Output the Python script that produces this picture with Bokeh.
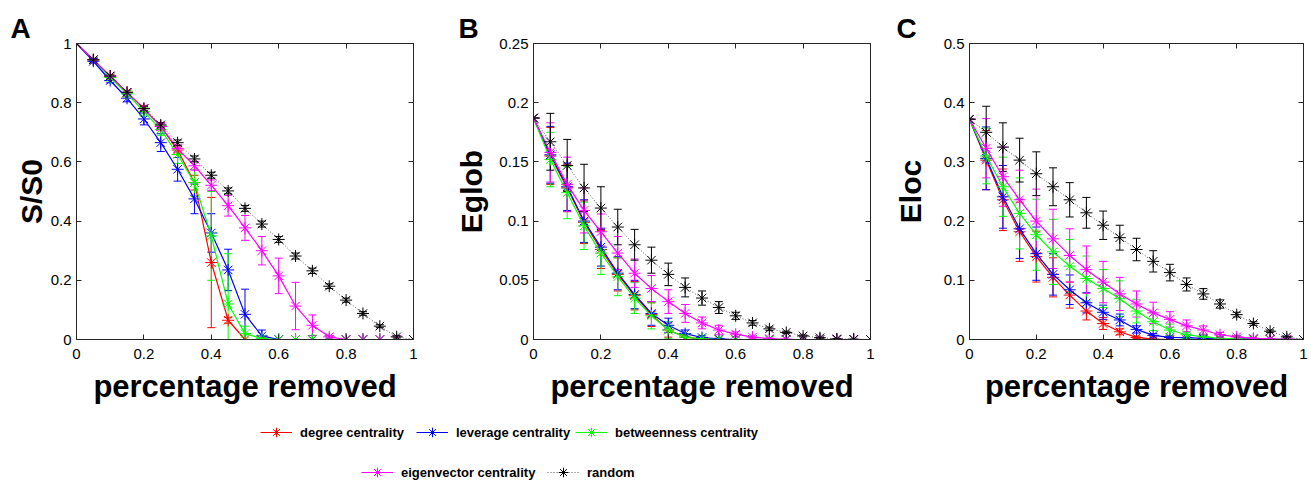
from bokeh.plotting import figure
from bokeh.models import (ColumnDataSource, Whisker, TeeHead, Range1d, FixedTicker,
                          LinearAxis, Legend, LegendItem, CustomLabelingPolicy)
from bokeh.layouts import row, column
from bokeh.embed import file_html
from bokeh.resources import INLINE

# ---------------- data ----------------
removed = [0.0, 0.05, 0.1, 0.15, 0.2, 0.25, 0.3, 0.35, 0.4, 0.45, 0.5,
           0.55, 0.6, 0.65, 0.7, 0.75, 0.8, 0.85, 0.9, 0.95, 1.0]

series_names = ["degree centrality", "leverage centrality", "betweenness centrality",
                "eigenvector centrality", "random"]
series_colors = ["#ff0000", "#0000ff", "#00ff00", "#ff00ff", "#000000"]

# Panel A : S/S0
degA = [1, 0.945, 0.89, 0.835, 0.78, 0.72, 0.64, 0.53, 0.26, 0.065, 0, 0, 0, 0, 0, 0, 0, 0, 0, 0, 0]
degA_err = [0, 0.005, 0.005, 0.007, 0.01, 0.012, 0.015, 0.025, 0.22, 0.01, 0, 0, 0, 0, 0, 0, 0, 0, 0, 0, 0]
levA = [1, 0.94, 0.875, 0.815, 0.745, 0.665, 0.575, 0.475, 0.36, 0.235, 0.085, 0.012, 0, 0, 0, 0, 0, 0, 0, 0, 0]
levA_err = [0, 0.006, 0.008, 0.012, 0.02, 0.03, 0.04, 0.05, 0.065, 0.07, 0.085, 0.02, 0, 0, 0, 0, 0, 0, 0, 0, 0]
betA = [1, 0.945, 0.885, 0.83, 0.77, 0.71, 0.625, 0.53, 0.35, 0.12, 0.02, 0.003, 0, 0, 0, 0, 0, 0, 0, 0, 0]
betA_err = [0, 0.005, 0.006, 0.01, 0.015, 0.02, 0.03, 0.045, 0.15, 0.17, 0.025, 0.004, 0, 0, 0, 0, 0, 0, 0, 0, 0]
eigA = [1, 0.945, 0.89, 0.835, 0.78, 0.72, 0.645, 0.587, 0.521, 0.452, 0.377, 0.30, 0.215, 0.113, 0.048, 0.009, 0, 0, 0, 0, 0]
eigA_err = [0, 0.004, 0.005, 0.006, 0.008, 0.01, 0.012, 0.015, 0.018, 0.035, 0.042, 0.048, 0.06, 0.08, 0.035, 0.005, 0, 0, 0, 0, 0]
randA = [1, 0.945, 0.89, 0.835, 0.78, 0.725, 0.665, 0.61, 0.555, 0.502, 0.443, 0.39, 0.338, 0.282, 0.232, 0.18, 0.133, 0.088, 0.045, 0.009, 0]
randA_err = [0, 0.004, 0.005, 0.006, 0.007, 0.008, 0.009, 0.01, 0.01, 0.01, 0.01, 0.01, 0.01, 0.01, 0.009, 0.008, 0.007, 0.006, 0.005, 0.004, 0]

# Panel B : Eglob
degB = [0.187, 0.155, 0.128, 0.099, 0.076, 0.055, 0.037, 0.021, 0.008, 0.002, 0.0003, 0, 0, 0, 0, 0, 0, 0, 0, 0, 0]
degB_err = [0, 0.024, 0.02, 0.018, 0.016, 0.014, 0.012, 0.01, 0.006, 0.002, 0.001, 0, 0, 0, 0, 0, 0, 0, 0, 0, 0]
levB = [0.187, 0.156, 0.129, 0.100, 0.078, 0.056, 0.038, 0.022, 0.012, 0.005, 0.0017, 0.0005, 0, 0, 0, 0, 0, 0, 0, 0, 0]
levB_err = [0, 0.024, 0.02, 0.018, 0.016, 0.014, 0.012, 0.01, 0.006, 0.003, 0.0015, 0.0005, 0, 0, 0, 0, 0, 0, 0, 0, 0]
betB = [0.187, 0.152, 0.124, 0.096, 0.073, 0.053, 0.035, 0.020, 0.008, 0.002, 0.0005, 0, 0, 0, 0, 0, 0, 0, 0, 0, 0]
betB_err = [0, 0.023, 0.022, 0.02, 0.018, 0.016, 0.013, 0.011, 0.007, 0.003, 0.001, 0, 0, 0, 0, 0, 0, 0, 0, 0, 0]
eigB = [0.187, 0.158, 0.131, 0.109, 0.091, 0.073, 0.056, 0.043, 0.032, 0.022, 0.014, 0.008, 0.0045, 0.002, 0.0007, 0.0002, 0, 0, 0, 0, 0]
eigB_err = [0, 0.025, 0.023, 0.019, 0.015, 0.014, 0.012, 0.011, 0.01, 0.0075, 0.005, 0.004, 0.002, 0.001, 0.0005, 0, 0, 0, 0, 0, 0]
randB = [0.187, 0.167, 0.147, 0.128, 0.111, 0.095, 0.080, 0.067, 0.055, 0.044, 0.035, 0.027, 0.020, 0.014, 0.009, 0.006, 0.003, 0.0015, 0.0005, 0.0002, 0]
randB_err = [0, 0.024, 0.022, 0.02, 0.018, 0.015, 0.013, 0.011, 0.0095, 0.008, 0.006, 0.005, 0.003, 0.002, 0.0015, 0.001, 0.0008, 0.0005, 0.0003, 0.0001, 0]

# Panel C : Eloc
degC = [0.372, 0.303, 0.236, 0.182, 0.140, 0.105, 0.075, 0.048, 0.027, 0.013, 0.0035, 0.0005, 0, 0, 0, 0, 0, 0, 0, 0, 0]
degC_err = [0, 0.05, 0.052, 0.05, 0.043, 0.033, 0.022, 0.015, 0.01, 0.005, 0.002, 0.0005, 0, 0, 0, 0, 0, 0, 0, 0, 0]
levC = [0.372, 0.306, 0.241, 0.187, 0.145, 0.110, 0.084, 0.062, 0.046, 0.033, 0.017, 0.007, 0.0035, 0.003, 0.002, 0.0015, 0.001, 0.001, 0.0005, 0.0003, 0]
levC_err = [0, 0.053, 0.053, 0.05, 0.045, 0.035, 0.025, 0.017, 0.012, 0.01, 0.006, 0.003, 0.002, 0.001, 0.001, 0.0005, 0, 0, 0, 0, 0]
betC = [0.372, 0.310, 0.258, 0.213, 0.177, 0.148, 0.124, 0.103, 0.086, 0.069, 0.048, 0.030, 0.016, 0.008, 0.0045, 0.002, 0.001, 0.0005, 0.0003, 0.0002, 0]
betC_err = [0, 0.047, 0.05, 0.06, 0.06, 0.055, 0.045, 0.038, 0.032, 0.03, 0.02, 0.015, 0.01, 0.005, 0.003, 0.002, 0.001, 0.0005, 0, 0, 0]
eigC = [0.372, 0.323, 0.275, 0.236, 0.200, 0.170, 0.142, 0.118, 0.097, 0.077, 0.060, 0.045, 0.034, 0.023, 0.016, 0.008, 0.0045, 0.002, 0.001, 0.0005, 0]
eigC_err = [0, 0.05, 0.05, 0.05, 0.054, 0.05, 0.045, 0.04, 0.035, 0.028, 0.022, 0.018, 0.013, 0.01, 0.007, 0.004, 0.002, 0.001, 0.0005, 0, 0]
randC = [0.372, 0.350, 0.325, 0.303, 0.280, 0.258, 0.236, 0.214, 0.193, 0.172, 0.152, 0.132, 0.113, 0.093, 0.077, 0.060, 0.042, 0.027, 0.014, 0.0045, 0]
randC_err = [0, 0.044, 0.041, 0.037, 0.037, 0.032, 0.029, 0.026, 0.024, 0.021, 0.019, 0.018, 0.014, 0.011, 0.009, 0.007, 0.004, 0.003, 0.002, 0.001, 0]

xtick_vals = [0, 0.2, 0.4, 0.6, 0.8, 1]
xtick_labels = ["0", "0.2", "0.4", "0.6", "0.8", "1"]
ytickA_vals = [0, 0.2, 0.4, 0.6, 0.8, 1]
ytickA_labels = ["0", "0.2", "0.4", "0.6", "0.8", "1"]
ytickB_vals = [0, 0.05, 0.1, 0.15, 0.2, 0.25]
ytickB_labels = ["0", "0.05", "0.1", "0.15", "0.2", "0.25"]
ytickC_vals = [0, 0.1, 0.2, 0.3, 0.4, 0.5]
ytickC_labels = ["0", "0.1", "0.2", "0.3", "0.4", "0.5"]

FONT = "Liberation Sans"
AX = "#262626"


def style_axis(ax, vals, labels, show_labels, standoff):
    ax.ticker = FixedTicker(ticks=vals)
    ax.major_tick_in = 5
    ax.major_tick_out = 0
    ax.minor_tick_line_color = None
    ax.axis_line_color = AX
    ax.major_tick_line_color = AX
    ax.major_label_text_font = FONT
    ax.major_label_text_color = "#000000"
    if show_labels:
        ax.major_label_overrides = {float(v): s for v, s in zip(vals, labels)}
        ax.major_label_text_font_size = "15px"
        ax.major_label_standoff = standoff
    else:
        ax.major_label_text_font_size = "0px"
        ax.major_label_standoff = 0
        ax.major_label_policy = CustomLabelingPolicy(code="return []")
        ax.axis_label = None


def make_panel(letter, ylabel, ymax, ytv, ytl, data, b_left, frame_w, b_right,
               ylab_standoff, letter_x):
    p = figure(frame_width=frame_w, frame_height=296,
               min_border_left=b_left, min_border_right=b_right,
               min_border_top=43, min_border_bottom=69,
               x_range=Range1d(0, 1), y_range=Range1d(0, ymax),
               output_backend="svg", toolbar_location=None,
               x_axis_label="percentage removed", y_axis_label=ylabel)
    p.xgrid.visible = False
    p.ygrid.visible = False
    p.outline_line_color = AX
    p.background_fill_color = "white"
    p.border_fill_color = "white"

    p.title.text = letter
    p.title.text_font = FONT
    p.title.text_font_size = "28px"
    p.title.text_font_style = "bold"
    p.title.text_color = "#000000"
    p.title.align = "left"
    p.title.offset = letter_x
    p.title.standoff = 0

    style_axis(p.xaxis[0], xtick_vals, xtick_labels, True, 9)
    style_axis(p.yaxis[0], ytv, ytl, True, 5)
    for ax in (p.xaxis[0], p.yaxis[0]):
        ax.axis_label_text_font = FONT
        ax.axis_label_text_font_style = "bold"
        ax.axis_label_text_font_size = "31px" if ax is p.xaxis[0] else "30px"
        ax.axis_label_text_color = "#000000"
    p.xaxis[0].axis_label_standoff = 7
    p.yaxis[0].axis_label_standoff = ylab_standoff

    top = LinearAxis()
    right = LinearAxis()
    style_axis(top, xtick_vals, xtick_labels, False, 0)
    style_axis(right, ytv, ytl, False, 0)
    p.add_layout(top, "above")
    p.add_layout(right, "right")

    for (vals, errs), name, color in zip(data, series_names, series_colors):
        src = ColumnDataSource(dict(
            x=removed, y=vals,
            upper=[v + e for v, e in zip(vals, errs)],
            lower=[max(v - e, 0) for v, e in zip(vals, errs)]))
        w = Whisker(base="x", upper="upper", lower="lower", source=src,
                    line_color=color, line_width=1,
                    upper_head=TeeHead(size=8, line_color=color, line_width=1),
                    lower_head=TeeHead(size=8, line_color=color, line_width=1))
        p.add_layout(w)
        if name == "random":
            p.line("x", "y", source=src, line_color="#555555", line_width=1, line_dash="1 2")
        else:
            p.line("x", "y", source=src, line_color=color, line_width=1.2)
        p.scatter("x", "y", source=src, marker="asterisk", size=12,
                  line_color=color, line_width=1)
    return p


pA = make_panel("A", "S/S0", 1.0, ytickA_vals, ytickA_labels,
                [(degA, degA_err), (levA, levA_err), (betA, betA_err),
                 (eigA, eigA_err), (randA, randA_err)],
                76, 337, 37, 0, -66)
pB = make_panel("B", "Eglob", 0.25, ytickB_vals, ytickB_labels,
                [(degB, degB_err), (levB, levB_err), (betB, betB_err),
                 (eigB, eigB_err), (randB, randB_err)],
                83, 337, 20, 8, -75)
pC = make_panel("C", "Eloc", 0.5, ytickC_vals, ytickC_labels,
                [(degC, degC_err), (levC, levC_err), (betC, betC_err),
                 (eigC, eigC_err), (randC, randC_err)],
                78, 334, 8, 14, -73)

# ---------------- legend strip ----------------
pl = figure(width=1311, height=76, x_range=Range1d(0, 1), y_range=Range1d(0, 1),
            x_axis_type=None, y_axis_type=None, output_backend="svg",
            toolbar_location=None, min_border_left=0, min_border_right=0,
            min_border_top=0, min_border_bottom=0)
pl.xgrid.visible = False
pl.ygrid.visible = False
pl.outline_line_color = None

legend_pos = [(260, 40), (416, 40), (575, 40), (361, 0), (547, 0)]
for name, color, pos in zip(series_names, series_colors, legend_pos):
    # off-range dummy point so the legend has a glyph to draw
    if name == "random":
        rl = pl.line(x=[-5, -4], y=[-5, -4], line_color="#555555", line_width=1, line_dash="1 2")
    else:
        rl = pl.line(x=[-5, -4], y=[-5, -4], line_color=color, line_width=1.2)
    rs = pl.scatter(x=[-5], y=[-5], marker="asterisk", size=11, line_color=color, line_width=1)
    lg = Legend(items=[LegendItem(label=name, renderers=[rl, rs])], location=pos,
                orientation="horizontal", padding=0, margin=0, spacing=0,
                border_line_color=None, background_fill_alpha=0,
                glyph_width=32, glyph_height=24, label_height=24, label_standoff=8,
                label_text_font=FONT, label_text_font_size="13px",
                label_text_font_style="bold", label_text_color="#000000")
    pl.add_layout(lg)

layout = column(row(pA, pB, pC), pl)
open("out.html", "w").write(file_html(layout, INLINE))
